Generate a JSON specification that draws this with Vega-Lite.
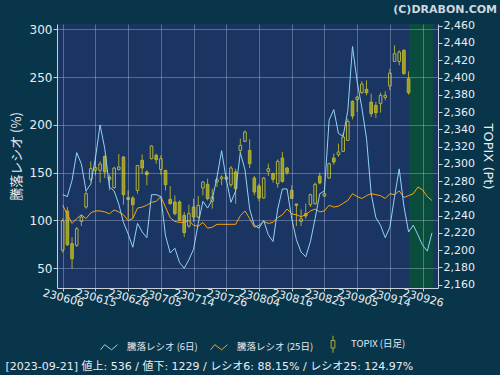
{
"$schema": "https://vega.github.io/schema/vega-lite/v6.json",
"width": 381, "height": 264,
"autosize": "none",
"padding": {"left": 57, "top": 24, "right": 62, "bottom": 87},
"background": "#08354a",
"view": {"fill": "#1b3563", "stroke": null},
"config": {"font": "DejaVu Sans", "axis": {"labelOverlap": false}, "axisRight": {"labelOverlap": false}},
"title": {"text": "(C)DRABON.COM", "anchor": "end", "frame": "group", "dx": 59, "dy": 17, "offset": 11, "baseline": "bottom", "fontSize": 11, "fontWeight": "bold", "color": "#cfd8de", "font": "DejaVu Sans"},
"datasets": {
"candles": [
{"i":0,"d":"230606","o":2200,"h":2237,"l":2197,"c":2234},
{"i":1,"d":"230607","o":2245.4,"h":2250,"l":2204.8,"c":2206.4},
{"i":2,"d":"230608","o":2207.5,"h":2215.3,"l":2178.6,"c":2190.2},
{"i":3,"d":"230609","o":2205.6,"h":2226.8,"l":2203.7,"c":2224.9},
{"i":4,"d":"230612","o":2233.4,"h":2241.1,"l":2228,"c":2238.4},
{"i":5,"d":"230613","o":2250,"h":2269.3,"l":2248.1,"c":2265.5},
{"i":6,"d":"230614","o":2282.1,"h":2302.9,"l":2279.7,"c":2294.4},
{"i":7,"d":"230615","o":2292.5,"h":2309.9,"l":2286.7,"c":2295.6},
{"i":8,"d":"230616","o":2292.5,"h":2302.9,"l":2278.2,"c":2299.8},
{"i":9,"d":"230619","o":2308.7,"h":2309.5,"l":2283.6,"c":2290.6},
{"i":10,"d":"230620","o":2284.8,"h":2287.5,"l":2269.3,"c":2282.1},
{"i":11,"d":"230621","o":2272.4,"h":2296.4,"l":2271.3,"c":2295.2},
{"i":12,"d":"230622","o":2293.3,"h":2311.4,"l":2292.5,"c":2296.4},
{"i":13,"d":"230623","o":2307.9,"h":2309.1,"l":2252.7,"c":2264.3},
{"i":14,"d":"230626","o":2260.8,"h":2269.3,"l":2236.5,"c":2258.9},
{"i":15,"d":"230627","o":2260.4,"h":2262.8,"l":2236.5,"c":2252.7},
{"i":16,"d":"230628","o":2269.3,"h":2298.3,"l":2265.5,"c":2298},
{"i":17,"d":"230629","o":2304.1,"h":2311,"l":2288.6,"c":2295.2},
{"i":18,"d":"230630","o":2290.6,"h":2292.5,"l":2275.1,"c":2287.5},
{"i":19,"d":"230703","o":2306,"h":2321.4,"l":2305.2,"c":2320.7},
{"i":20,"d":"230704","o":2309.9,"h":2311.8,"l":2300.2,"c":2304.8},
{"i":21,"d":"230705","o":2293.6,"h":2309.9,"l":2287.5,"c":2306},
{"i":22,"d":"230706","o":2292.5,"h":2292.8,"l":2269.3,"c":2275.9},
{"i":23,"d":"230707","o":2258.9,"h":2274.3,"l":2252.7,"c":2253.9},
{"i":24,"d":"230710","o":2255.8,"h":2263.5,"l":2240.4,"c":2242.3},
{"i":25,"d":"230711","o":2255.8,"h":2257.7,"l":2233.4,"c":2234.6},
{"i":26,"d":"230712","o":2240.4,"h":2244.2,"l":2215.3,"c":2220.3},
{"i":27,"d":"230713","o":2228,"h":2252.7,"l":2225.7,"c":2242.3},
{"i":28,"d":"230714","o":2250,"h":2259.7,"l":2232.6,"c":2238.4},
{"i":29,"d":"230718","o":2238.4,"h":2262.8,"l":2236.5,"c":2251.9},
{"i":30,"d":"230719","o":2272,"h":2279.7,"l":2263.5,"c":2279},
{"i":31,"d":"230720","o":2276.3,"h":2282.8,"l":2257.7,"c":2259.7},
{"i":32,"d":"230721","o":2256.6,"h":2271.3,"l":2248.1,"c":2261.6},
{"i":33,"d":"230724","o":2279,"h":2284.8,"l":2273.2,"c":2281.7},
{"i":34,"d":"230725","o":2282.8,"h":2286.7,"l":2275.1,"c":2284.8},
{"i":35,"d":"230726","o":2284.8,"h":2286.7,"l":2279,"c":2282.1},
{"i":36,"d":"230727","o":2275.9,"h":2297.5,"l":2273.2,"c":2295.2},
{"i":37,"d":"230728","o":2290.6,"h":2294.4,"l":2253.9,"c":2271.3},
{"i":38,"d":"230731","o":2315.6,"h":2329.2,"l":2311.8,"c":2321.4},
{"i":39,"d":"230801","o":2326.1,"h":2338.8,"l":2325.3,"c":2336.9},
{"i":40,"d":"230802","o":2315.6,"h":2328.4,"l":2295.2,"c":2300.2},
{"i":41,"d":"230803","o":2283.6,"h":2285.9,"l":2263.5,"c":2267.4},
{"i":42,"d":"230804","o":2274.3,"h":2277,"l":2256.6,"c":2260.4},
{"i":43,"d":"230807","o":2260.4,"h":2284.8,"l":2259.7,"c":2283.6},
{"i":44,"d":"230808","o":2291.3,"h":2300.2,"l":2285.9,"c":2294.4},
{"i":45,"d":"230809","o":2288.6,"h":2289.8,"l":2278.2,"c":2282.1},
{"i":46,"d":"230810","o":2277,"h":2305.2,"l":2272.4,"c":2302.9},
{"i":47,"d":"230814","o":2306.8,"h":2313.7,"l":2278.2,"c":2279.7},
{"i":48,"d":"230815","o":2295.2,"h":2296.4,"l":2287.5,"c":2289.8},
{"i":49,"d":"230816","o":2269.3,"h":2275.1,"l":2259.7,"c":2259.9},
{"i":50,"d":"230817","o":2253.5,"h":2253.9,"l":2228,"c":2251.9},
{"i":51,"d":"230818","o":2233.4,"h":2247.3,"l":2228,"c":2236.5},
{"i":52,"d":"230821","o":2242.3,"h":2253.9,"l":2236.5,"c":2239.6},
{"i":53,"d":"230822","o":2252.7,"h":2265.5,"l":2250,"c":2264.3},
{"i":54,"d":"230823","o":2253.9,"h":2278.2,"l":2252.7,"c":2276.3},
{"i":55,"d":"230824","o":2285.9,"h":2289.8,"l":2276.3,"c":2277.8},
{"i":56,"d":"230825","o":2262.8,"h":2272.4,"l":2261.6,"c":2265.5},
{"i":57,"d":"230828","o":2283.6,"h":2301.4,"l":2282.8,"c":2300.2},
{"i":58,"d":"230829","o":2306.8,"h":2311.8,"l":2299.1,"c":2302.1},
{"i":59,"d":"230830","o":2310.6,"h":2323.4,"l":2308.1,"c":2313.7},
{"i":60,"d":"230831","o":2314.5,"h":2336.1,"l":2313.7,"c":2331.1},
{"i":61,"d":"230901","o":2327.2,"h":2352.3,"l":2327.2,"c":2349.2},
{"i":62,"d":"230904","o":2372.4,"h":2373.6,"l":2351.6,"c":2355.4},
{"i":63,"d":"230905","o":2374.3,"h":2378.6,"l":2360.1,"c":2377.4},
{"i":64,"d":"230906","o":2382.4,"h":2395.6,"l":2381.3,"c":2392.5},
{"i":65,"d":"230907","o":2386.3,"h":2396.7,"l":2379.4,"c":2382.4},
{"i":66,"d":"230908","o":2371.6,"h":2381.3,"l":2354.3,"c":2358.1},
{"i":67,"d":"230911","o":2367.8,"h":2371.6,"l":2353.1,"c":2359.3},
{"i":68,"d":"230912","o":2369.7,"h":2382.4,"l":2359.3,"c":2379.4},
{"i":69,"d":"230913","o":2377,"h":2384,"l":2373.6,"c":2379.4},
{"i":70,"d":"230914","o":2390.2,"h":2410.2,"l":2385.1,"c":2405.2},
{"i":71,"d":"230915","o":2418.7,"h":2437.3,"l":2418,"c":2427.6},
{"i":72,"d":"230919","o":2418.7,"h":2431.5,"l":2414.1,"c":2429.5},
{"i":73,"d":"230920","o":2431.5,"h":2432.6,"l":2403.3,"c":2404.5},
{"i":74,"d":"230921","o":2398.7,"h":2407.2,"l":2380.1,"c":2382.4}
],
"ratio": [
{"i":0,"r6":127,"r25":116},{"i":1,"r6":125,"r25":106},{"i":2,"r6":142,"r25":97},{"i":3,"r6":171,"r25":102},{"i":4,"r6":159,"r25":106},
{"i":5,"r6":131,"r25":102},{"i":6,"r6":138,"r25":108},{"i":7,"r6":165,"r25":110},{"i":8,"r6":200,"r25":110},{"i":9,"r6":175,"r25":109},
{"i":10,"r6":135,"r25":107},{"i":11,"r6":131,"r25":111},{"i":12,"r6":117,"r25":109},{"i":13,"r6":98,"r25":106},{"i":14,"r6":86,"r25":100},
{"i":15,"r6":72,"r25":102},{"i":16,"r6":97,"r25":113},{"i":17,"r6":88,"r25":114},{"i":18,"r6":82,"r25":116},{"i":19,"r6":127,"r25":119},
{"i":20,"r6":127,"r25":120},{"i":21,"r6":125,"r25":125},{"i":22,"r6":84,"r25":114},{"i":23,"r6":66,"r25":103},{"i":24,"r6":71,"r25":99},
{"i":25,"r6":56,"r25":98},{"i":26,"r6":50,"r25":98},{"i":27,"r6":59,"r25":100},{"i":28,"r6":70,"r25":95},{"i":29,"r6":97,"r25":94},
{"i":30,"r6":120,"r25":98},{"i":31,"r6":113,"r25":92},{"i":32,"r6":122,"r25":93},{"i":33,"r6":145,"r25":96},{"i":34,"r6":173,"r25":96},
{"i":35,"r6":143,"r25":96},{"i":36,"r6":119,"r25":96},{"i":37,"r6":131,"r25":96},{"i":38,"r6":171,"r25":105},{"i":39,"r6":153,"r25":110},
{"i":40,"r6":112,"r25":102},{"i":41,"r6":95,"r25":93},{"i":42,"r6":92,"r25":95},{"i":43,"r6":100,"r25":99},{"i":44,"r6":85,"r25":97},
{"i":45,"r6":78,"r25":98},{"i":46,"r6":112,"r25":103},{"i":47,"r6":133,"r25":106},{"i":48,"r6":133,"r25":112},{"i":49,"r6":102,"r25":107},
{"i":50,"r6":80,"r25":106},{"i":51,"r6":67,"r25":104},{"i":52,"r6":62,"r25":106},{"i":53,"r6":78,"r25":110},{"i":54,"r6":102,"r25":112},
{"i":55,"r6":128,"r25":109},{"i":56,"r6":131,"r25":110},{"i":57,"r6":205,"r25":116},{"i":58,"r6":216,"r25":114},{"i":59,"r6":191,"r25":115},
{"i":60,"r6":188,"r25":118},{"i":61,"r6":215,"r25":121},{"i":62,"r6":282,"r25":128},{"i":63,"r6":245,"r25":125},{"i":64,"r6":218,"r25":123},
{"i":65,"r6":186,"r25":126},{"i":66,"r6":128,"r25":128},{"i":67,"r6":103,"r25":127},{"i":68,"r6":95,"r25":126},{"i":69,"r6":82,"r25":123},
{"i":70,"r6":93,"r25":128},{"i":71,"r6":125,"r25":127},{"i":72,"r6":154,"r25":131},{"i":73,"r6":115,"r25":124},{"i":74,"r6":88,"r25":126},
{"i":75,"r6":95,"r25":128},{"i":76,"r6":85,"r25":135},{"i":77,"r6":74,"r25":132},{"i":78,"r6":68,"r25":125},{"i":79,"r6":87,"r25":121}
]
},
"encoding": {
"x": {"field": "i", "type": "quantitative",
"scale": {"domain": [-0.15, 79.225], "nice": false, "zero": false},
"axis": {"values": [0,7,14,21,28,35,42,49,56,63,70,77],
"labelExpr": "['230606','230615','230626','230705','230714','230726','230804','230816','230825','230905','230914','230926'][round(datum.value/7)]",
"labelAngle": 15, "labelAlign": "center", "labelBaseline": "middle", "labelPadding": 7, "labelFontSize": 11, "labelColor": "#e8eef4",
"labelOverlap": false, "labelFlush": false,
"tickSize": 3, "tickColor": "#c8d0dc", "domainColor": "#c8d0dc",
"grid": true, "gridColor": "#c8d4f0", "gridOpacity": 0.35, "zindex": 1,
"title": "[2023-09-21] 値上: 536 / 値下: 1229 / レシオ6: 88.15% / レシオ25: 124.97%",
"titleX": -52, "titleY": 81, "titleAlign": "left", "titleBaseline": "alphabetic", "titleFontSize": 11, "titleFontWeight": "normal",
"titleColor": "#e8eef4", "titleFont": "DejaVu Sans, Noto Sans CJK JP", "titleLimit": 600}}
},
"layer": [
{
"data": {"values": [{"i": 74.1, "i2": 79.225}]},
"mark": {"type": "rect", "color": "#0a4d3c"},
"encoding": {"x2": {"field": "i2"}}
},
{
"data": {"name": "candles"},
"layer": [
{"mark": {"type": "rule", "color": "#a8a832", "strokeWidth": 1},
"encoding": {
"y": {"field": "l", "type": "quantitative", "scale": {"domain": [2156.2, 2462], "nice": false, "zero": false},
"axis": {"orient": "right", "title": "TOPIX (Pt)", "values": [2160,2180,2200,2220,2240,2260,2280,2300,2320,2340,2360,2380,2400,2420,2440,2460],
"format": ",d", "grid": false, "labelOverlap": false, "tickSize": 4, "tickColor": "#c8d0dc", "domainColor": "#c8d0dc", "labelColor": "#e8eef4", "labelFontSize": 11, "labelPadding": 1,
"titleFontSize": 13, "titleFontWeight": "normal", "titleColor": "#e8eef4", "titlePadding": 6, "titleFont": "DejaVu Sans"}},
"y2": {"field": "h"}}},
{"mark": {"type": "bar", "size": 2.6, "stroke": "#b2b23a", "strokeWidth": 1},
"encoding": {
"y": {"field": "o", "type": "quantitative", "scale": {"domain": [2156.2, 2462], "nice": false, "zero": false},
"axis": {"orient": "right", "title": "TOPIX (Pt)", "values": [2160,2180,2200,2220,2240,2260,2280,2300,2320,2340,2360,2380,2400,2420,2440,2460],
"format": ",d", "grid": false, "labelOverlap": false, "tickSize": 4, "tickColor": "#c8d0dc", "domainColor": "#c8d0dc", "labelColor": "#e8eef4", "labelFontSize": 11, "labelPadding": 1,
"titleFontSize": 13, "titleFontWeight": "normal", "titleColor": "#e8eef4", "titlePadding": 6, "titleFont": "DejaVu Sans"}},
"y2": {"field": "c"},
"fill": {"condition": {"test": "datum.c < datum.o", "value": "#9f9f1e"}, "value": "#1b3563"}}}
]
},
{
"data": {"name": "ratio"},
"layer": [
{"mark": {"type": "line", "color": "#ffa500", "strokeWidth": 1, "clip": true},
"encoding": {
"y": {"field": "r25", "type": "quantitative", "scale": {"domain": [29.4, 305.5], "nice": false, "zero": false},
"axis": {"orient": "left", "title": "騰落レシオ (%)", "values": [50,75,100,125,150,175,200,225,250,275,300],
"grid": true, "gridColor": "#c8d4f0", "gridOpacity": 0.35, "tickSize": 4, "tickColor": "#c8d0dc", "domainColor": "#c8d0dc",
"labelColor": "#e8eef4", "labelFontSize": 12, "labelPadding": 1, "labelOverlap": false,
"titleFont": "Noto Sans CJK JP", "titleFontSize": 13, "titleFontWeight": "normal", "titleColor": "#e8eef4", "titlePadding": 6, "zindex": 1}}}},
{"mark": {"type": "line", "color": "#8fd3f5", "strokeWidth": 1, "clip": true},
"encoding": {
"y": {"field": "r6", "type": "quantitative"}}},
{"data": {"values": [{"s": "騰落レシオ (6日)"}, {"s": "騰落レシオ (25日)"}, {"s": "TOPIX (日足)"}]},
"mark": {"type": "point", "filled": false, "opacity": 0},
"encoding": {
"color": {"field": "s", "type": "nominal",
"scale": {"domain": ["騰落レシオ (6日)", "騰落レシオ (25日)", "TOPIX (日足)"], "range": ["#8fd3f5", "#ffa500", "#b0b030"]},
"legend": {"title": null, "orient": "none", "legendX": 43, "legendY": 311, "direction": "horizontal", "columns": 3,
"symbolSize": 289, "symbolStrokeWidth": 1, "symbolOpacity": 1, "labelFont": "Noto Sans CJK JP", "labelFontSize": 9.5, "labelColor": "#e4eaf2",
"labelOffset": 9, "columnPadding": 10, "padding": 0,
"encode": {"symbols": {"update": {"opacity": {"value": 1}}}}}},
"shape": {"field": "s", "type": "nominal",
"scale": {"domain": ["騰落レシオ (6日)", "騰落レシオ (25日)", "TOPIX (日足)"],
"range": ["M-1,0.3L-0.5,-0.3L0.3,0.3L1,-0.3", "M-1,0.3L-0.5,-0.3L0.3,0.3L1,-0.3", "M0,-1L0,-0.45M-0.22,-0.45L0.22,-0.45L0.22,0.45L-0.22,0.45ZM0,0.45L0,1"]},
"legend": {"title": null, "orient": "none", "legendX": 43, "legendY": 311, "direction": "horizontal", "columns": 3,
"symbolSize": 289, "symbolStrokeWidth": 1, "symbolOpacity": 1, "labelFont": "Noto Sans CJK JP", "labelFontSize": 9.5, "labelColor": "#e4eaf2",
"labelOffset": 9, "columnPadding": 10, "padding": 0,
"encode": {"symbols": {"update": {"opacity": {"value": 1}}}}}}
}}
]
}
],
"resolve": {"scale": {"y": "independent"}}
}
